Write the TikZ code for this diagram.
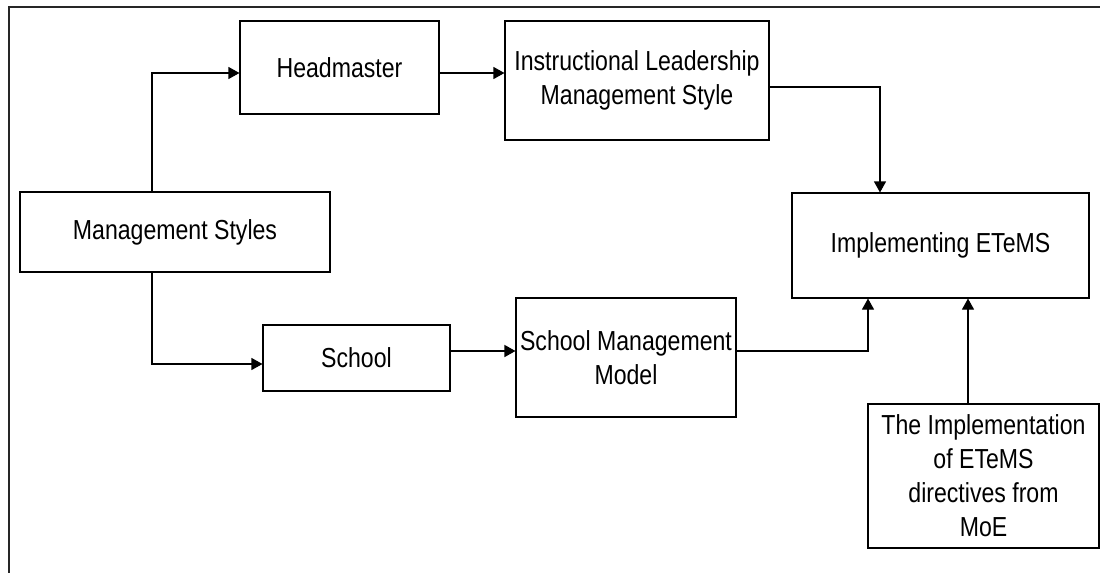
\documentclass[tikz,border=0pt]{standalone}
\usepackage{fontspec}
\setmainfont{Liberation Sans}[FakeStretch=0.84]
\usetikzlibrary{arrows.meta}
\begin{document}
\begin{tikzpicture}[x=1pt, y=-1pt, line width=1.1pt,
  blk/.style={draw, rectangle, align=center, inner sep=2pt, font=\fontsize{27.5}{34}\selectfont},
  arr/.style={-{Triangle[length=11pt, width=12pt]}}]
\useasboundingbox (0,0) rectangle (1100,573);
\draw[line width=1.6pt, black!85] (1100,7) -- (9,7) -- (9,573);
\node[blk, minimum width=199pt, minimum height=93pt] (head) at (339.5,67.5){Headmaster};
\node[blk, minimum width=264pt, minimum height=119pt] (ilms) at (637,80.5){Instructional Leadership\\Management Style};
\node[blk, minimum width=310pt, minimum height=80pt] (mstyles) at (175,232){Management Styles};
\node[blk, minimum width=187pt, minimum height=66pt] (school) at (356.5,358){School};
\node[blk, minimum width=220pt, minimum height=119pt] (smm) at (626,357.5){School Management\\Model};
\node[blk, minimum width=297pt, minimum height=105pt] (etems) at (940.5,245.5){Implementing ETeMS};
\node[blk, minimum width=231pt, minimum height=144pt] (moe) at (983.5,476){The Implementation\\of ETeMS\\directives from\\MoE};
\draw[arr] ([xshift=-23pt]mstyles.north) |- ([yshift=-5.5pt]head.west);
\draw[arr] ([xshift=-23pt]mstyles.south) |- ([yshift=-6pt]school.west);
\draw[arr] ([yshift=-5.5pt]head.east) -- ([yshift=-5.5pt]head.east -| ilms.west);
\draw[arr, line width=1.5pt] ([yshift=7pt]school.east) -- ([yshift=7pt]school.east -| smm.west);
\draw[arr] ([yshift=-6.5pt]ilms.east) -| ([xshift=-60.5pt]etems.north);
\draw[arr] ([yshift=6.5pt]smm.east) -| ([xshift=-72.5pt]etems.south);
\draw[arr] ([xshift=-15.5pt]moe.north) -- ([xshift=-15.5pt]moe.north |- etems.south);
\end{tikzpicture}
\end{document}
